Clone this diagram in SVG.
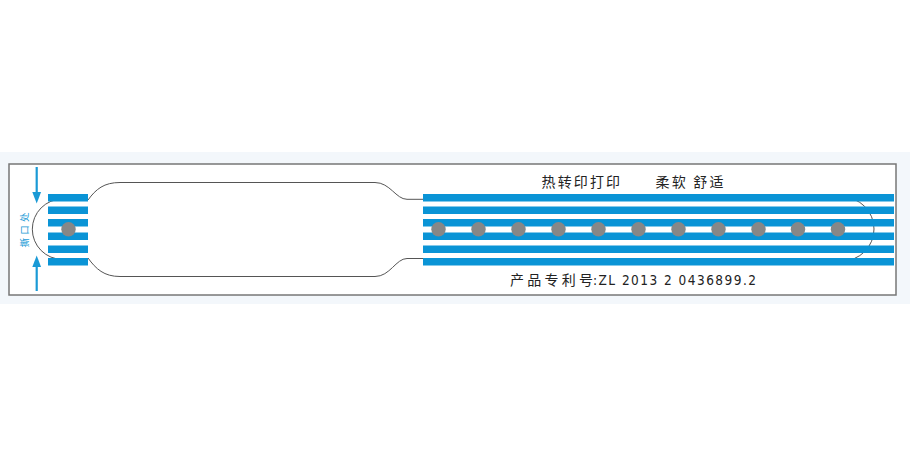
<svg xmlns="http://www.w3.org/2000/svg" width="910" height="456" viewBox="0 0 910 456">
<style>
.stripe{fill:#0a94d6}
.dot{fill:#878787}
.outline{fill:none;stroke:#555;stroke-width:1}
.cjk{font-family:"Noto Sans CJK SC","Liberation Sans",sans-serif;fill:#222}
.arrow{stroke:#1a9ad6;stroke-width:2.2}
.arrowhead{fill:#1a9ad6}
</style>
<rect x="0" y="0" width="910" height="456" fill="#ffffff"/>
<rect x="0" y="152" width="910" height="152" fill="#f3f7fb"/>
<rect id="band" x="9" y="164" width="887" height="131" fill="#ffffff" stroke="#777" stroke-width="1.5"/>
<g id="connectors">
  <path class="outline" d="M 62.5 199 A 30.2 30.2 0 0 0 62.5 259.4"/>
  <path class="outline" d="M 88 200 C 96 189, 104 182.5, 120 182.5 L 375 182.5 C 390 182.5, 396 199.3, 407 199.3 L 423 199.3"/>
  <path class="outline" d="M 88 258 C 96 269, 104 276.5, 120 276.5 L 375 276.5 C 390 276.5, 396 258.5, 407 258.5 L 423 258.5"/>
  <path class="outline" d="M 842 197 A 32 32 0 0 1 842 261"/>
</g>
<g id="left-tab">
  <rect class="stripe" x="48" y="194" width="40" height="7.5"/>
  <rect class="stripe" x="48" y="206.5" width="40" height="7.5"/>
  <rect class="stripe" x="48" y="219" width="40" height="7.5"/>
  <rect class="stripe" x="48" y="232.5" width="40" height="7.5"/>
  <rect class="stripe" x="48" y="245.5" width="40" height="7.5"/>
  <rect class="stripe" x="48" y="258" width="40" height="7.5"/>
  <circle class="dot" cx="68.5" cy="229.3" r="7.2"/>
</g>
<g id="right-strap">
  <rect class="stripe" x="423" y="194" width="471" height="7.5"/>
  <rect class="stripe" x="423" y="206.5" width="471" height="7.5"/>
  <rect class="stripe" x="423" y="219" width="471" height="7.5"/>
  <rect class="stripe" x="423" y="232.5" width="471" height="7.5"/>
  <rect class="stripe" x="423" y="245.5" width="471" height="7.5"/>
  <rect class="stripe" x="423" y="258" width="471" height="7.5"/>
  <circle class="dot" cx="438.5" cy="229.3" r="7.2"/>
  <circle class="dot" cx="478.5" cy="229.3" r="7.2"/>
  <circle class="dot" cx="518.5" cy="229.3" r="7.2"/>
  <circle class="dot" cx="558.5" cy="229.3" r="7.2"/>
  <circle class="dot" cx="598.5" cy="229.3" r="7.2"/>
  <circle class="dot" cx="638.5" cy="229.3" r="7.2"/>
  <circle class="dot" cx="678.5" cy="229.3" r="7.2"/>
  <circle class="dot" cx="718.5" cy="229.3" r="7.2"/>
  <circle class="dot" cx="758.5" cy="229.3" r="7.2"/>
  <circle class="dot" cx="798" cy="229.3" r="7.2"/>
  <circle class="dot" cx="838" cy="229.3" r="7.2"/>
</g>
<g id="tear-marker">
  <line class="arrow" x1="36.7" y1="167" x2="36.7" y2="194"/>
  <polygon class="arrowhead" points="32.3,192 41.1,192 36.7,203.5"/>
  <line class="arrow" x1="36.7" y1="265" x2="36.7" y2="291"/>
  <polygon class="arrowhead" points="32.3,267 41.1,267 36.7,255.5"/>
  <text class="cjk" transform="translate(27.5,230) rotate(-90)" text-anchor="middle" font-size="9.5" style="fill:#1a9ad6" textLength="35" lengthAdjust="spacing">撕口处</text>
</g>
<g id="labels">
  <text class="cjk" x="541.5" y="186.5" font-size="14" textLength="78.5" lengthAdjust="spacing">热转印打印</text>
  <text class="cjk" x="655.5" y="186.5" font-size="14" textLength="68" lengthAdjust="spacing">柔软 舒适</text>
  <text class="cjk" x="510" y="284.5" font-size="14" textLength="83" lengthAdjust="spacing">产品专利号</text>
  <text x="593" y="284.5" font-size="13.5" font-family="'DejaVu Sans Condensed','Liberation Sans',sans-serif" fill="#222" textLength="163" lengthAdjust="spacing">:ZL 2013 2 0436899.2</text>
</g>
</svg>
